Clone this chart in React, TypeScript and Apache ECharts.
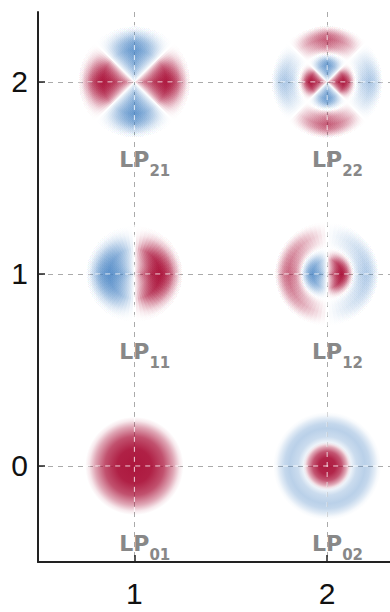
import React, { useEffect, useRef } from "react";
import * as echarts from "echarts";

// ---- data ----
const X_TICKS = [1, 2];
const Y_TICKS = [0, 1, 2];
// mode LP_lm: l on the y axis, m on the x axis
const MODE_L = [0, 0, 1, 1, 2, 2];
const MODE_M = [1, 2, 1, 2, 1, 2];
const MODE_SUB = ["01", "02", "11", "12", "21", "22"];

// field lobes: [modeIndex, sign(+1 red / -1 blue), centre angle deg, width deg, r0, rPeak, r1 (axis units), amplitude]
const LOBES: number[][] = [
  [0, 1, 0, 360, 0, 0, 0.255, 0.97],
  [1, 1, 0, 360, 0, 0, 0.125, 0.95],
  [1, -1, 0, 360, 0.11, 0.195, 0.28, 0.38],
  [2, 1, 0, 180, 0, 0.13, 0.255, 0.96],
  [2, -1, 180, 180, 0, 0.13, 0.255, 0.88],
  [3, 1, 0, 180, 0, 0.075, 0.14, 0.95],
  [3, -1, 180, 180, 0, 0.075, 0.14, 0.82],
  [3, 1, 180, 180, 0.13, 0.2, 0.275, 0.62],
  [3, -1, 0, 180, 0.13, 0.2, 0.275, 0.42],
  [4, 1, 0, 90, 0, 0.165, 0.295, 0.95],
  [4, 1, 180, 90, 0, 0.165, 0.295, 0.95],
  [4, -1, 90, 90, 0, 0.165, 0.295, 0.82],
  [4, -1, 270, 90, 0, 0.165, 0.295, 0.82],
  [5, 1, 0, 90, 0, 0.085, 0.15, 0.95],
  [5, 1, 180, 90, 0, 0.085, 0.15, 0.95],
  [5, -1, 90, 90, 0, 0.085, 0.15, 0.8],
  [5, -1, 270, 90, 0, 0.085, 0.15, 0.8],
  [5, 1, 90, 90, 0.145, 0.22, 0.295, 0.68],
  [5, 1, 270, 90, 0.145, 0.22, 0.295, 0.68],
  [5, -1, 0, 90, 0.145, 0.22, 0.295, 0.45],
  [5, -1, 180, 90, 0.145, 0.22, 0.295, 0.45],
];

// ---- styling ----
const RED = [170, 16, 56];
const BLUE = [72, 132, 196];
const LAYERS = 16;

// radial profile (0..1) sampled at stop offsets, converted to per-layer alpha
function radialStops(r0: number, rp: number, r1: number, rgb: number[], amp: number, n: number) {
  const c = (t: number) => {
    const T = Math.max(0, Math.min(0.995, amp * t));
    const s = 1 - Math.pow(1 - T, 1 / n);
    return `rgba(${rgb[0]},${rgb[1]},${rgb[2]},${s.toFixed(4)})`;
  };
  if (rp <= 0) {
    return [
      { offset: 0, color: c(1) },
      { offset: 0.35, color: c(0.96) },
      { offset: 0.6, color: c(0.75) },
      { offset: 0.8, color: c(0.38) },
      { offset: 0.92, color: c(0.1) },
      { offset: 1, color: c(0) },
    ];
  }
  const o = (r: number) => Math.min(1, Math.max(0, r / r1));
  const stops: any[] = [];
  if (r0 > 0) {
    stops.push({ offset: 0, color: c(0) });
    stops.push({ offset: o(r0), color: c(0) });
  } else {
    stops.push({ offset: 0, color: c(0.1) });
  }
  stops.push({ offset: o(r0 + 0.5 * (rp - r0)), color: c(0.75) });
  stops.push({ offset: o(rp), color: c(1) });
  stops.push({ offset: o(rp + 0.3 * (r1 - rp)), color: c(0.85) });
  stops.push({ offset: o(rp + 0.6 * (r1 - rp)), color: c(0.45) });
  stops.push({ offset: o(rp + 0.82 * (r1 - rp)), color: c(0.12) });
  stops.push({ offset: 1, color: c(0) });
  return stops;
}

function renderItem(params: any, api: any) {
  const idx = api.value(2);
  const pt = api.coord([api.value(0), api.value(1)]);
  const cx = pt[0];
  const cy = pt[1];
  const u = api.size([1, 1])[0];
  const children: any[] = [];
  let maxR = 0;
  LOBES.filter((lb) => lb[0] === idx).forEach((lb) => {
    const [, sign, cDeg, wDeg, r0u, rpu, r1u, amp] = lb;
    const rgb = sign > 0 ? RED : BLUE;
    const r0 = r0u * u;
    const rp = rpu * u;
    const r1 = r1u * u;
    maxR = Math.max(maxR, r1);
    if (wDeg >= 360) {
      children.push({
        type: "circle",
        shape: { cx, cy, r: r1 },
        style: { fill: new echarts.graphic.RadialGradient(cx, cy, r1, radialStops(r0, rp, r1, rgb, amp, 1), true) },
      });
    } else {
      const grad = new echarts.graphic.RadialGradient(cx, cy, r1, radialStops(r0, rp, r1, rgb, amp, LAYERS), true);
      const c = (cDeg * Math.PI) / 180;
      for (let k = 0; k < LAYERS; k++) {
        const f = 0.97 * (1 - k / LAYERS);
        const half = ((wDeg / 2) * f * Math.PI) / 180;
        children.push({
          type: "sector",
          shape: { cx, cy, r0: Math.max(0, r0 - 2), r: r1, startAngle: c - half, endAngle: c + half, clockwise: true },
          style: { fill: grad },
        });
      }
    }
  });
  const dash = { stroke: "rgba(255,255,255,0.8)", lineWidth: 1, lineDash: [5, 5] };
  children.push({ type: "line", shape: { x1: cx - maxR, y1: cy, x2: cx + maxR, y2: cy }, style: dash });
  children.push({ type: "line", shape: { x1: cx, y1: cy - maxR, x2: cx, y2: cy + maxR }, style: dash });
  children.push({
    type: "text",
    style: {
      text: "LP",
      x: cx + 15,
      y: cy + 78,
      textAlign: "right",
      verticalAlign: "middle",
      fill: "#888",
      font: "bold 22px 'DejaVu Sans'",
    },
  });
  children.push({
    type: "text",
    style: {
      text: MODE_SUB[idx],
      x: cx + 15,
      y: cy + 89,
      textAlign: "left",
      verticalAlign: "middle",
      fill: "#888",
      font: "bold 15px 'DejaVu Sans'",
    },
  });
  return { type: "group", children };
}

export default function App() {
  const ref = useRef<HTMLDivElement>(null);
  useEffect(() => {
    if (!ref.current) return;
    const chart = echarts.init(ref.current, undefined, { renderer: "svg" });
    const axisLine = { show: true, onZero: false, lineStyle: { color: "#222", width: 2 } };
    const split = { show: true, lineStyle: { color: "#aaa", width: 1, type: [5, 5] as any } };
    chart.setOption({
      animation: false,
      backgroundColor: "#fff",
      grid: { left: 38, right: 0, top: 12, bottom: 50, containLabel: false, outerBoundsMode: "none" },
      xAxis: {
        type: "value",
        min: 0.5,
        max: 2.326,
        axisLine,
        axisTick: { show: true, inside: true, length: 7, customValues: X_TICKS, lineStyle: { color: "#222", width: 1.5 } },
        axisLabel: {
          customValues: X_TICKS,
          fontSize: 30,
          color: "#111",
          margin: 16,
          fontFamily: "'Liberation Sans', Arial, sans-serif",
        },
        splitLine: split,
      },
      yAxis: {
        type: "value",
        min: -0.5,
        max: 2.364,
        axisLine,
        axisTick: { show: true, inside: true, length: 7, customValues: Y_TICKS, lineStyle: { color: "#222", width: 1.5 } },
        axisLabel: {
          customValues: Y_TICKS,
          fontSize: 30,
          color: "#111",
          margin: 10,
          fontFamily: "'Liberation Sans', Arial, sans-serif",
        },
        splitLine: split,
      },
      series: [
        {
          type: "custom",
          renderItem,
          clip: false,
          encode: { x: 0, y: 1 },
          data: MODE_M.map((m, i) => [m, MODE_L[i], i]),
        },
      ],
    });
    return () => chart.dispose();
  }, []);
  return <div ref={ref} style={{ width: 390, height: 612, position: "absolute", left: 0, top: 0 }} />;
}
